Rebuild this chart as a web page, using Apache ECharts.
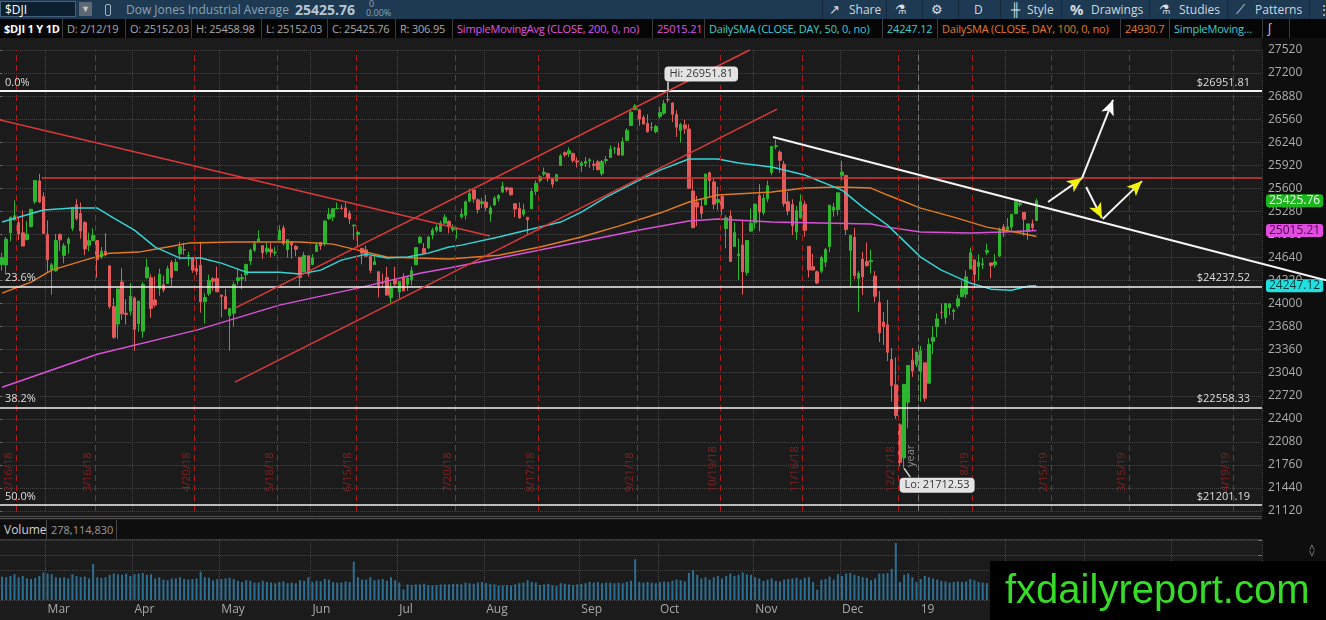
<!DOCTYPE html>
<html>
<head>
<meta charset="utf-8">
<title>$DJI 1 Y 1D</title>
<script src="https://cdn.jsdelivr.net/npm/echarts@6.0.0/dist/echarts.min.js"></script>
<style>
  html, body { margin: 0; padding: 0; background: #1b1b1b; }
  body { width: 1326px; height: 620px; position: relative; overflow: hidden; font-family: 'Open Sans', 'Noto Sans', sans-serif; }
  #chart { position: absolute; left: 0; top: 0; width: 1326px; height: 620px; }
  .bar1 { position: absolute; left: 0; top: 0; width: 1326px; height: 19px; background: #1e3a52; color: #d0d8df; font-size: 12px; }
  .bar1 span { position: absolute; top: 0; line-height: 19px; white-space: nowrap; }
  .bar1 .symbox { left: 0; top: 1px; width: 76px; height: 16px; line-height: 16px; box-sizing: border-box; padding-left: 4px; background: #0b1f31; border: 1px solid #46627b; color: #fff; }
  .bar1 .dd { left: 79px; top: 2px; width: 13px; height: 14px; line-height: 14px; background: #5d6872; color: #c8c8c8; font-size: 9px; text-align: center; }
  .bar1 .lnk { left: 105px; top: 4px; width: 4px; height: 10px; border: 1px solid #9fb3c4; border-radius: 2px; }
  .bar1 .sep { top: 0; width: 1px; height: 19px; background: #132a3e; }
  .bar1 .ico { font-size: 13px; color: #d6dde3; }
  .bar2 { position: absolute; left: 0; top: 19px; width: 1326px; height: 19px; background: #050505; font-size: 11px; letter-spacing: -0.2px; }
  .bar2 span { position: absolute; top: 0; height: 19px; line-height: 19px; box-sizing: border-box; border-right: 1px solid #3d3d3d; padding-left: 4px; overflow: hidden; white-space: nowrap; color: #a9a9a9; }
  #volhead { position: absolute; left: 0; top: 520px; width: 1262px; height: 19px; background: #0e0e0e; border-bottom: 1px solid #3a3a3a; font-size: 12px; }
  #volhead span { position: absolute; top: 0; height: 19px; line-height: 19px; box-sizing: border-box; border-right: 1px solid #4a4a4a; white-space: nowrap; }
  #mark { position: absolute; left: 990px; top: 561px; width: 336px; height: 59px; background: #000; }
  #mark span { position: absolute; left: 15px; top: 8px; line-height: 40px; font-family: 'Liberation Sans', Arial, sans-serif; font-size: 40px; color: #36dc28; white-space: nowrap; }
  #arr { position: absolute; left: 1306px; top: 543px; color: #8a8a8a; font-size: 11px; transform: rotate(90deg); }
</style>
</head>
<body>
<div id="chart"></div>

<div class="bar1">
  <span class="symbox">$DJI</span>
  <span class="dd">&#9660;</span>
  <span class="lnk"></span>
  <span style="left:126px;color:#8ba1b4;">Dow Jones Industrial Average</span>
  <span style="left:295px;font-weight:bold;font-size:14px;color:#b7c6d2;">25425.76</span>
  <span style="left:369px;top:-1px;line-height:10px;font-size:9px;color:#8ba1b4;">0</span>
  <span style="left:366px;top:8px;line-height:10px;font-size:9px;color:#8ba1b4;">0.00%</span>
  <span class="sep" style="left:822px"></span>
  <span class="ico" style="left:829px">&#8599;</span><span style="left:849px">Share</span>
  <span class="sep" style="left:886px"></span>
  <span class="ico" style="left:895px">&#9879;</span>
  <span class="sep" style="left:922px"></span>
  <span class="ico" style="left:931px">&#9881;</span>
  <span class="sep" style="left:958px"></span>
  <span style="left:974px">D</span>
  <span class="sep" style="left:1000px"></span>
  <span class="ico" style="left:1011px">&#9579;</span><span style="left:1027px">Style</span>
  <span class="sep" style="left:1061px"></span>
  <span style="left:1070px;font-weight:bold;font-size:15px;">%</span><span style="left:1091px">Drawings</span>
  <span class="sep" style="left:1149px"></span>
  <span class="ico" style="left:1159px">&#9879;</span><span style="left:1179px">Studies</span>
  <span class="sep" style="left:1227px"></span>
  <span class="ico" style="left:1236px">&#10187;</span><span style="left:1255px">Patterns</span>
  <span class="sep" style="left:1309px"></span>
  <span style="left:1318px">&#8942;</span>
</div>

<div class="bar2">
  <span style="left:0;width:63px;color:#fff;font-weight:bold;">$DJI 1 Y 1D</span>
  <span style="left:63px;width:63px;">D: 2/12/19</span>
  <span style="left:126px;width:66px;">O: 25152.03</span>
  <span style="left:192px;width:70px;">H: 25458.98</span>
  <span style="left:262px;width:66px;">L: 25152.03</span>
  <span style="left:328px;width:68px;">C: 25425.76</span>
  <span style="left:396px;width:57px;">R: 306.95</span>
  <span style="left:453px;width:200px;color:#e055e0;">SimpleMovingAvg (CLOSE, 200, 0, no)</span>
  <span style="left:653px;width:52px;color:#e055e0;">25015.21</span>
  <span style="left:705px;width:178px;color:#3ccfd0;">DailySMA (CLOSE, DAY, 50, 0, no)</span>
  <span style="left:883px;width:55px;color:#3ccfd0;">24247.12</span>
  <span style="left:938px;width:183px;color:#e07b2a;">DailySMA (CLOSE, DAY, 100, 0, no)</span>
  <span style="left:1121px;width:49px;color:#e07b2a;">24930.7</span>
  <span style="left:1170px;width:93px;color:#3ccfd0;">SimpleMoving...</span>
  <span style="left:1263px;width:27px;color:#cfcfcf;font-size:13px;">&#8747;</span>
</div>

<div id="volhead">
  <span style="left:0;width:47px;padding-left:4px;color:#d0d0d0;">Volume</span>
  <span style="left:47px;width:70px;padding-left:4px;color:#9a9a9a;font-size:11px;">278,114,830</span>
</div>

<div id="arr">&lt;&gt;</div>
<div id="mark"><span>fxdailyreport.com</span></div>

<script>
	
	// trading days shown: 2/13/18 .. 2/12/19, then empty future slots to 4/30/19
	var holidays = ["2018-02-19", "2018-03-30", "2018-05-28", "2018-07-04", "2018-09-03", "2018-11-22",
	                "2018-12-05", "2018-12-25", "2019-01-01", "2019-01-21", "2019-02-18"];
	
	var opens = [
		24541, 24535, 24983, 25165, 25124, 24982, 24888, 25071, 25414, 25702, 25484,
		24962, 24470, 24456, 24957, 24669, 24829, 25043, 25370, 25251, 25124, 24809, 24877, 24875, 24645, 24727, 24524, 23958, 23715, 24300, 23866, 23894,
		24076, 23719, 23617, 24359, 24358, 24050, 24210, 24262, 24279, 24572, 24460, 24690, 24748, 24659, 24621, 24488, 24530, 24025, 24135, 24344, 24349,
		24118, 24098, 23836, 23865, 24317, 24341, 24400, 24590, 24741, 24867, 24804, 24723, 24754, 24704, 24883, 25048, 24748, 24856, 24794, 24643, 24444, 24662,
		24542, 24722, 24849, 24843, 25180, 25200, 25317, 25327, 25328, 25249, 25079, 24961, 24767, 24745, 24657, 24541, 24442, 24295, 24363, 24082, 24330,
		24161, 24367, 24268, 24331, 24539, 24845, 24763, 24773, 24950, 25017, 25002, 25116, 25140, 25025, 25036, 25205, 25226, 25423, 25577, 25440, 25386,
		25409, 25244, 25369, 25455, 25547, 25606, 25605, 25386, 25322, 25241, 25197, 25317, 25558, 25708, 25798, 25803, 25730, 25704, 25917, 26094, 26080, 26082, 25980,
		25916, 25946, 25981, 25935, 25967, 25803, 25985, 26028, 26155, 26160, 26059, 26265, 26472, 26694, 26690, 26583, 26498, 26443, 26385,
		26598, 26643, 26833, 26785, 26623, 26402, 26480, 26423, 25561, 25406, 25348, 25370, 25816, 25688, 25404, 25486, 25041, 25215, 24793, 24668, 24811, 24431, 25005,
		25121, 25499, 25262, 25456, 25819, 26181, 26101, 25935, 25415, 25374, 24995, 25193, 25380, 24794, 24512, 24442, 24449, 24575, 24791, 25295, 25304,
		25780, 25779, 24737, 24919, 24349, 24619, 24585, 24579, 24381, 24015, 23743, 23705, 23224, 22871, 22317, 21857, 22630, 23213, 23154,
		23058, 23177, 22894, 23474, 23680, 23880, 23804, 23940, 23890, 23965, 24095, 24130, 24480, 24606, 24514, 24538, 24710, 24564, 24540, 24660, 25065,
		25026, 25062, 25247, 25371, 25265, 25001, 25108, 25152.03
	];
	
	var highs = [
		24705, 24925, 25203, 25432, 25196, 25293, 25144, 25310, 25710, 25800, 25543,
		25153, 24564, 24966, 24976, 24839, 24922, 25336, 25449, 25402, 25144, 24985, 25044, 24876, 24786, 24977, 24524, 24076, 24203, 24490, 24059, 24283,
		24099, 24040, 24302, 24623, 24403, 24380, 24484, 24386, 24525, 24601, 24624, 24858, 24845, 24714, 24643, 24616, 24858, 24148, 24400, 24368, 24512,
		24118, 24203, 23937, 24305, 24479, 24412, 24553, 24763, 24868, 25016, 24804, 24844, 24838, 24786, 25086, 25086, 24888, 24856, 24812, 24643, 24718, 24668,
		24686, 24853, 24853, 25153, 25326, 25317, 25402, 25372, 25399, 25290, 25094, 25010, 24771, 24803, 24657, 24671, 24442, 24416, 24509, 24301, 24509,
		24312, 24420, 24368, 24514, 24783, 24940, 24839, 24933, 25052, 25100, 25150, 25239, 25156, 25100, 25054, 25319, 25430, 25595, 25578, 25455, 25468,
		25507, 25358, 25491, 25517, 25692, 25622, 25612, 25386, 25405, 25387, 25197, 25603, 25711, 25781, 25888, 25816, 25742, 25800, 26074, 26112, 26168, 26097, 26028,
		25978, 26035, 26018, 25988, 25997, 25994, 26049, 26195, 26176, 26230, 26307, 26433, 26699, 26770, 26701, 26616, 26626, 26518, 26480,
		26731, 26828, 26951.81, 26793, 26681, 26510, 26552, 26490, 25724, 25497, 25448, 25799, 25831, 25728, 25620, 25518, 25225, 25296, 25125, 24903, 25153, 24876, 25322,
		25383, 25657, 25520, 25706, 26180, 26277, 26130, 25981, 25544, 25447, 25353, 25517, 25428, 24794, 24691, 24457, 24666, 24772, 25367, 25400, 25538,
		25980, 25780, 24948, 25052, 24452, 24717, 24848, 24750, 24451, 24174, 23885, 24050, 23381, 23254, 22340, 22879, 23139, 23382, 23333,
		23413, 23177, 23518, 23687, 23865, 24001, 24002, 24003, 23932, 24120, 24316, 24460, 24776, 24606, 24683, 24636, 24833, 24564, 24688, 25057, 25103,
		25186, 25239, 25442, 25439, 25265, 25107, 25167, 25458.98
	];
	
	var lows = [
		24458, 24405, 24862, 25149, 24884, 24795, 24880, 25054, 25382, 25397, 24971,
		24438, 24122, 24440, 24729, 24558, 24695, 25005, 25153, 24900, 24672, 24724, 24866, 24359, 24621, 24656, 23926, 23510, 23509, 23775, 23710, 23834,
		23345, 23606, 23524, 24343, 23803, 23948, 24108, 24157, 24279, 24246, 24460, 24611, 24678, 24518, 24428, 24393, 23874, 23724, 24106, 24178, 24162,
		23808, 23922, 23344, 23682, 24263, 24198, 24313, 24532, 24715, 24860, 24621, 24682, 24643, 24665, 24883, 24805, 24636, 24625, 24655, 24242, 24444, 24373,
		24533, 24722, 24743, 24798, 25162, 25144, 25311, 25302, 25191, 25107, 24886, 24788, 24544, 24651, 24423, 24541, 24084, 24246, 24108, 23998, 24244,
		24077, 24174, 24175, 24252, 24539, 24826, 24686, 24758, 24893, 24986, 24997, 25106, 24976, 24993, 24900, 25177, 25169, 25402, 25397, 25254, 25323,
		25289, 25135, 25353, 25413, 25536, 25543, 25500, 25200, 25179, 25208, 24965, 25317, 25506, 25677, 25768, 25692, 25610, 25689, 25917, 26033, 26035, 25957, 25888,
		25829, 25894, 25881, 25852, 25857, 25774, 25939, 26028, 26077, 26058, 26059, 26258, 26472, 26682, 26468, 26485, 26373, 26395, 26362,
		26568, 26620, 26789, 26519, 26312, 26236, 26357, 25599, 25053, 25075, 25182, 25370, 25475, 25309, 25294, 25226, 24768, 24583, 24787, 24328, 24123, 24389, 25005,
		25039, 25002, 25226, 25407, 25780, 26143, 25816, 25344, 25225, 24950, 24882, 25172, 24928, 24360, 24462, 24268, 24420, 24507, 24713, 25204, 25222,
		25708, 24955, 24242, 24339, 23881, 24119, 24511, 24417, 24018, 23465, 23423, 23201, 22640, 22397, 21740, 21712.53, 22267, 22982, 23118,
		22638, 22639, 22894, 23301, 23530, 23788, 23712, 23840, 23776, 23931, 24091, 24073, 24480, 24212, 24322, 24479, 24673, 24350, 24498, 24648, 24924,
		24990, 25011, 25247, 25342, 24941, 24884, 25005, 25152.03
	];
	
	var closes = [
		24640, 24893, 25200, 25219, 24965, 24798, 24962, 25310, 25709, 25410, 24971,
		24609, 24538, 24875, 24884, 24801, 24895, 25336, 25179, 25007, 24758, 24874, 24947, 24611, 24727, 24682, 23958, 23533, 24203, 23858, 23848, 24103,
		23644, 24033, 24264, 24505, 23933, 23979, 24408, 24189, 24483, 24360, 24573, 24787, 24748, 24665, 24463, 24449, 24024, 24084, 24322, 24311, 24163,
		24099, 23925, 23930, 24263, 24357, 24360, 24543, 24740, 24831, 24899, 24706, 24769, 24714, 24715, 25013, 24834, 24887, 24812, 24753, 24361, 24668, 24416,
		24635, 24814, 24800, 25146, 25241, 25317, 25322, 25321, 25201, 25175, 25090, 24987, 24700, 24658, 24462, 24581, 24253, 24283, 24118, 24216, 24271,
		24307, 24175, 24357, 24456, 24777, 24920, 24700, 24925, 25019, 25064, 25120, 25199, 25065, 25058, 25044, 25242, 25414, 25527, 25451, 25307, 25415,
		25334, 25326, 25463, 25502, 25629, 25584, 25509, 25313, 25188, 25300, 25162, 25559, 25669, 25759, 25822, 25734, 25657, 25790, 26050, 26064, 26125, 25987, 25965,
		25952, 25975, 25996, 25917, 25857, 25971, 25999, 26146, 26155, 26062, 26247, 26406, 26657, 26744, 26562, 26492, 26385, 26440, 26458,
		26651, 26774, 26828, 26627, 26447, 26487, 26431, 25599, 25053, 25340, 25251, 25798, 25707, 25379, 25444, 25317, 25191, 24583, 24985, 24688, 24443, 24875, 25116,
		25381, 25271, 25462, 25635, 26180, 26191, 25989, 25387, 25286, 25081, 25289, 25413, 25017, 24466, 24465, 24286, 24640, 24749, 25366, 25339, 25538,
		25826, 25027, 24948, 24389, 24423, 24370, 24527, 24597, 24101, 23593, 23676, 23324, 22860, 22445, 21792, 22878, 23139, 23062, 23327,
		23346, 22686, 23433, 23531, 23787, 23879, 24002, 23996, 23910, 24066, 24207, 24370, 24706, 24404, 24576, 24553, 24737, 24528, 24580, 25015, 25000,
		25064, 25239, 25412, 25390, 25170, 25106, 25053, 25425.76
	];
	
	// volume, millions
	var volumes = [
		390, 380, 400, 430, 380, 400, 360, 350, 370, 400, 460,
		440, 430, 380, 370, 380, 360, 430, 400, 380, 390, 360, 600, 380, 370, 380, 420, 440, 430, 420, 440, 400,
		430, 440, 450, 420, 430, 360, 380, 340, 330, 360, 360, 380, 350, 340, 350, 360, 470, 380, 370, 330, 350,
		350, 360, 370, 350, 320, 300, 330, 320, 290, 290, 320, 300, 290, 280, 300, 310, 280, 290, 280, 330, 320, 380,
		300, 320, 310, 350, 340, 300, 290, 290, 310, 300, 640, 380, 340, 340, 380, 330, 340, 350, 320, 380, 330,
		290, 180, 260, 250, 260, 260, 270, 250, 240, 250, 260, 260, 260, 270, 270, 260, 290, 280, 270, 290, 300,
		280, 270, 260, 240, 240, 250, 240, 260, 280, 290, 330, 300, 290, 250, 260, 270, 250, 230, 280, 270, 260, 250, 260,
		270, 280, 300, 290, 300, 280, 290, 290, 280, 290, 280, 300, 320, 680, 300, 290, 300, 290, 280,
		300, 310, 300, 320, 340, 330, 310, 450, 500, 420, 360, 380, 340, 380, 400, 360, 400, 440, 400, 420, 460, 430, 420,
		380, 360, 320, 340, 360, 320, 310, 340, 350, 360, 370, 340, 370, 380, 300, 170, 340, 350, 390, 340, 430,
		400, 440, 450, 420, 400, 380, 370, 330, 360, 440, 440, 450, 520, 950, 300, 420, 440, 380, 300,
		350, 400, 380, 360, 340, 320, 310, 290, 300, 310, 300, 310, 350, 330, 300, 290, 280, 300, 280, 340, 360,
		330, 300, 310, 290, 300, 280, 270, 278.11
	];
	
	// moving averages: [slot, value]
	var sma50 = [[0, 25131], [10, 25298], [17, 25325], [23, 25325], [27, 25187], [32, 25020], [37, 24784], [43, 24631],
		[48, 24631], [53, 24561], [59, 24436], [67, 24436], [72, 24409], [77, 24464], [82, 24603], [88, 24686], [93, 24631],
		[98, 24645], [103, 24700], [108, 24784], [111, 24811], [120, 24923], [128, 25034], [135, 25131], [140, 25270],
		[146, 25478], [154, 25714], [159, 25853], [166, 26006], [173, 26006], [178, 25950], [186, 25895], [194, 25784],
		[203, 25575], [208, 25339], [214, 25089], [222, 24645], [227, 24464], [234, 24284], [239, 24200], [244, 24186],
		[248, 24242], [250, 24247.12]];
	
	var sma100 = [[0, 24145], [7, 24298], [12, 24464], [20, 24603], [26, 24700], [33, 24714], [40, 24784], [45, 24839],
		[56, 24853], [72, 24853], [80, 24825], [88, 24714], [93, 24645], [100, 24631], [108, 24617], [120, 24672], [130, 24784],
		[140, 24923], [149, 25075], [159, 25256], [166, 25409], [173, 25506], [186, 25548], [194, 25603], [202, 25617],
		[210, 25603], [214, 25506], [222, 25325], [230, 25200], [238, 25061], [246, 24978], [250, 24930.7]];
	
	var sma200 = [[0, 22839], [23, 23297], [47, 23631], [67, 23978], [86, 24214], [101, 24422], [108, 24492], [130, 24742],
		[154, 25020], [166, 25145], [173, 25173], [186, 25131], [198, 25117], [210, 25103], [214, 25061], [222, 24992],
		[234, 24978], [242, 24992], [250, 25015.21]];
	
	var fibLevels = [26951.81, 24237.52, 22558.33, 21201.19];
	var fibNames = ["0.0%", "23.6%", "38.2%", "50.0%"];
	
	var expiries = ["2018-02-16", "2018-03-16", "2018-04-20", "2018-05-18", "2018-06-15", "2018-07-20", "2018-08-17",
	                "2018-09-21", "2018-10-19", "2018-11-16", "2018-12-21", "2019-01-18", "2019-02-15", "2019-03-15", "2019-04-19"];
	
	// drawings, [slot, price]
	var redTrends = [
		[[-0.5, 26548], [117.9, 24937]],
		[[56.3, 23936], [180.7, 27520]],
		[[56.3, 22909], [187.3, 26700]],
		[[9.6, 25752], [304.5, 25752]]
	];
	var whiteTrend = [[186.3, 26312], [304.5, 24552]];
	var arrowSegs = [
		[[252.8, 25409], [261, 25742]],
		[[261, 25742], [268.5, 26826]],
		[[262, 25617], [265.8, 25187]],
		[[266, 25173], [275.5, 25700]]
	];
	var headColors = ["#f2f20c", "#ffffff", "#f2f20c", "#f2f20c"];
	
	var lastTags = [25425.76, 25015.21, 24247.12];
	var tagStyles = [["#1db51d", "#effff0"], ["#e04de0", "#4a0a4a"], ["#22dede", "#053b3b"]];
	
	var monthNames = ["Jan", "Feb", "Mar", "Apr", "May", "Jun", "Jul", "Aug", "Sep", "Oct", "Nov", "Dec"];
	
	/*
	 * 交易日
	 */
	function tradingDays(from, to) {
		var out = [], d = new Date(from + "T00:00:00Z"), end = new Date(to + "T00:00:00Z");
		while (d <= end) {
			var wd = d.getUTCDay(), s = d.toISOString().slice(0, 10);
			if (wd > 0 && wd < 6 && holidays.indexOf(s) < 0) out.push(s);
			d.setUTCDate(d.getUTCDate() + 1);
		}
		return out;
	}
	
	var dates = tradingDays("2018-02-13", "2019-04-30");
	
	function monthStart(i) {
		return i > 0 && dates[i].slice(5, 7) !== dates[i - 1].slice(5, 7);
	}
	
	function shortDate(s) {
		var p = s.split("-");
		return (+p[1]) + "/" + (+p[2]) + "/" + p[0].slice(2);
	}
	
	var candles = opens.map(function(o, i) {
		return [o, closes[i], lows[i], highs[i]];
	});
	
	/*
	 * 标记线
	 */
	var lines = [];
	
	expiries.forEach(function(d) {
		lines.push({
			xAxis: dates.indexOf(d) + 0.5,
			lineStyle: { color: "#a81e1e", type: [6, 4], width: 1 },
			label: { show: true, position: "insideStartTop", formatter: shortDate(d), color: "#842222", fontSize: 11, distance: [19, 2] }
		});
	});
	
	lines.push({
		xAxis: dates.indexOf("2019-01-02") - 0.5,
		lineStyle: { color: "#777", type: [6, 4], width: 1 },
		label: { show: true, position: "insideStartTop", formatter: "year", color: "#8a8a8a", fontSize: 11, distance: [44, 2] }
	});
	
	fibLevels.forEach(function(v, i) {
		lines.push({
			yAxis: v,
			lineStyle: { color: "#f2f2f2", width: i === 0 ? 2 : 1.5, type: "solid" },
			label: { show: true, position: "insideStartTop", formatter: fibNames[i], color: "#dedede", fontSize: 11, distance: [5, 3] }
		});
		lines.push({
			yAxis: v,
			lineStyle: { color: "rgba(0,0,0,0)" },
			label: { show: true, position: "insideEndTop", formatter: "$" + v.toFixed(2), color: "#dedede", fontSize: 11, distance: [12, 3] }
		});
	});
	
	redTrends.forEach(function(t) {
		lines.push([{ coord: t[0], lineStyle: { color: "#dc3a3a", width: 1.5, type: "solid" } }, { coord: t[1] }]);
	});
	
	lines.push([{ coord: whiteTrend[0], lineStyle: { color: "#f4f4f4", width: 2, type: "solid" } }, { coord: whiteTrend[1] }]);
	
	arrowSegs.forEach(function(s, i) {
		lines.push([{ coord: s[0], lineStyle: { color: "#f4f4f4", width: 2, type: "solid" } }, { coord: s[1] }]);
		var a = [s[0][0] + (s[1][0] - s[0][0]) * 0.85, s[0][1] + (s[1][1] - s[0][1]) * 0.85];
		lines.push([{ coord: a, lineStyle: { color: headColors[i], width: 1, type: "solid" } },
		            { coord: s[1], symbol: "arrow", symbolSize: [10, 15] }]);
	});
	
	// callout tails
	lines.push([{ coord: [161, 26951.81], lineStyle: { color: "#d9d9d9", width: 1.5, type: "solid" } }, { coord: [161, 27080] }]);
	lines.push([{ coord: [218, 21712.53], lineStyle: { color: "#d9d9d9", width: 1.5, type: "solid" } }, { coord: [219.5, 21590] }]);
	
	lastTags.forEach(function(v, i) {
		lines.push({
			yAxis: v,
			lineStyle: { color: "rgba(0,0,0,0)" },
			label: {
				show: true, position: "end", formatter: v.toFixed(2), distance: [4, 0],
				backgroundColor: tagStyles[i][0], color: tagStyles[i][1], fontSize: 12,
				padding: [1, 3, 0, 3], borderRadius: 3
			}
		});
	});
	
	var callout = {
		show: true, position: "inside", color: "#333", fontSize: 11,
		backgroundColor: "#e3e3e3", padding: [2, 5, 2, 5], borderRadius: 4
	};
	
	var chart = echarts.init(document.getElementById("chart"));
	
	chart.setOption({
		backgroundColor: "#1b1b1b",
		animation: false,
		textStyle: { fontFamily: "'Open Sans', 'Noto Sans', sans-serif" },
		graphic: [
			{ id: "axisbg", type: "rect", z: -1, shape: { x: 1262, y: 38, width: 64, height: 582 }, style: { fill: "#0e0e0e" } },
			{ id: "edge1", type: "line", shape: { x1: 0, y1: 516.5, x2: 1262, y2: 516.5 }, style: { stroke: "#4d4d4d" } },
			{ id: "edge2", type: "line", shape: { x1: 0, y1: 518.5, x2: 1262, y2: 518.5 }, style: { stroke: "#4d4d4d" } }
		],
		grid: [
			{ left: 0, right: 64, top: 50, height: 461 },
			{ left: 0, right: 64, top: 540, height: 60 }
		],
		xAxis: [{
			gridIndex: 0,
			type: "category",
			data: dates,
			boundaryGap: true,
			axisLine: { show: false },
			axisTick: { show: false },
			axisLabel: { show: false },
			splitLine: { show: true, interval: function(i) { return monthStart(i); }, lineStyle: { color: "#464646", type: "dotted" } }
		}, {
			gridIndex: 1,
			type: "category",
			data: dates,
			boundaryGap: true,
			axisLine: { show: false },
			axisTick: { show: false },
			axisLabel: {
				show: true,
				interval: function(i) { return monthStart(i); },
				formatter: function(v) {
					var m = +v.slice(5, 7);
					return m === 1 ? v.slice(2, 4) : monthNames[m - 1];
				},
				align: "left",
				color: "#a8a8a8",
				fontSize: 12,
				margin: 4
			},
			splitLine: { show: true, interval: function(i) { return monthStart(i); }, lineStyle: { color: "#464646", type: "dotted" } }
		}, {
			gridIndex: 0,
			type: "value",
			min: -0.5,
			max: dates.length - 0.5,
			show: false
		}],
		yAxis: [{
			gridIndex: 0,
			type: "value",
			position: "right",
			min: 21120,
			max: 27520,
			interval: 320,
			axisLine: { show: false },
			axisTick: { show: true, inside: true, length: 4, lineStyle: { color: "#6a6a6a" } },
			axisLabel: { color: "#adadad", fontSize: 12, margin: 6, formatter: function(v) { return String(v); } },
			splitLine: { lineStyle: { color: "#464646", type: "dotted" } }
		}, {
			gridIndex: 1,
			type: "value",
			position: "right",
			min: 0,
			max: 1000,
			interval: 250,
			axisLine: { show: false },
			axisTick: { show: true, inside: true, length: 4, lineStyle: { color: "#6a6a6a" } },
			axisLabel: { show: false },
			splitLine: { lineStyle: { color: "#464646", type: "dotted" } }
		}],
		series: [{
			name: "$DJI",
			type: "candlestick",
			xAxisIndex: 0,
			yAxisIndex: 0,
			barWidth: 3,
			data: candles,
			itemStyle: {
				color: "#2db52d",
				color0: "#e35a5a",
				borderColor: "#2db52d",
				borderColor0: "#e35a5a",
				borderWidth: 1
			},
			z: 2
		}, {
			name: "SMA 200",
			type: "line",
			xAxisIndex: 0,
			yAxisIndex: 0,
			data: sma200,
			showSymbol: false,
			lineStyle: { color: "#d852d8", width: 1.5 },
			z: 3
		}, {
			name: "SMA 100",
			type: "line",
			xAxisIndex: 0,
			yAxisIndex: 0,
			data: sma100,
			showSymbol: false,
			lineStyle: { color: "#e07b22", width: 1.5 },
			z: 3
		}, {
			name: "SMA 50",
			type: "line",
			xAxisIndex: 0,
			yAxisIndex: 0,
			data: sma50,
			showSymbol: false,
			lineStyle: { color: "#36d2d6", width: 1.5 },
			z: 3
		}, {
			name: "drawings",
			type: "line",
			xAxisIndex: 2,
			yAxisIndex: 0,
			data: [],
			z: 4,
			markLine: {
				silent: true,
				symbol: ["none", "none"],
				label: { show: false },
				lineStyle: { type: "solid" },
				data: lines
			},
			markPoint: {
				silent: true,
				symbol: "circle",
				symbolSize: 1,
				itemStyle: { color: "rgba(0,0,0,0)" },
				data: [{
					coord: [161, 26951.81],
					label: Object.assign({}, callout, { formatter: "Hi: 26951.81", offset: [33, -17] })
				}, {
					coord: [218, 21712.53],
					label: Object.assign({}, callout, { formatter: "Lo: 21712.53", offset: [33, 17] })
				}]
			}
		}, {
			name: "Volume",
			type: "bar",
			xAxisIndex: 1,
			yAxisIndex: 1,
			data: volumes,
			barWidth: 2,
			itemStyle: { color: "#2d6f93" }
		}]
	});
	
	/*
	 * 白色趋势线延伸到价格轴上
	 */
	(function() {
		var p0 = chart.convertToPixel({ xAxisIndex: 2, yAxisIndex: 0 }, whiteTrend[0]),
			p1 = chart.convertToPixel({ xAxisIndex: 2, yAxisIndex: 0 }, whiteTrend[1]);
		var slope = (p1[1] - p0[1]) / (p1[0] - p0[0]),
			xEnd = chart.getWidth();
		chart.setOption({
			graphic: [{
				id: "trendExt",
				type: "line",
				z: 10,
				silent: true,
				shape: { x1: p1[0], y1: p1[1], x2: xEnd, y2: p1[1] + slope * (xEnd - p1[0]) },
				style: { stroke: "#f4f4f4", lineWidth: 2 }
			}]
		});
	})();
	
</script>
</body>
</html>
